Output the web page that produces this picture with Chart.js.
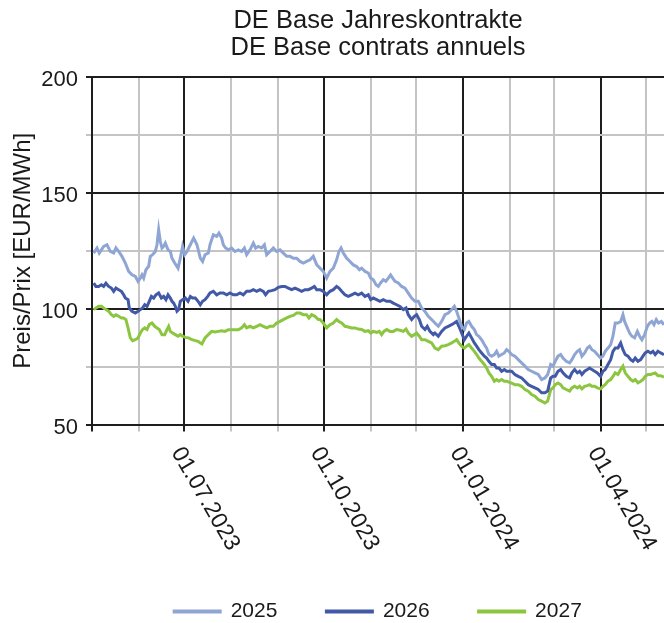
<!DOCTYPE html>
<html>
<head>
<meta charset="utf-8">
<script src="https://cdn.jsdelivr.net/npm/chart.js@4.4.1/dist/chart.umd.min.js"></script>
<style>
  html, body { margin: 0; padding: 0; background: #fff; }
  #wrap { width: 664px; height: 623px; }
</style>
</head>
<body>
<div id="wrap"><canvas id="chart"></canvas></div>
<script>
// Tage ab 01.05.2023, Preise in EUR/MWh
const seriesNames = ['2025', '2026', '2027'];

const points2025 = [
  [1.1,124.0],[3.3,126.2],[4.8,124.0],[7.7,126.9],[9.9,127.6],[12.1,124.7],[14.3,124.0],[15.8,126.2],[17.6,124.7],[19.8,122.6],
  [22,119.7],[24.2,116.1],[26.4,114.6],[28.6,113.9],[30.4,111.8],[31.9,113.2],[33,114.6],[34.1,113.2],[35.6,116.8],[37.4,118.3],
  [38.5,122.6],[40,123.3],[41.8,124.7],[42.9,127.6],[44,134.1],[45.1,129.0],[46.2,126.2],[47.3,126.9],[48.4,128.3],[50.2,125.4],
  [51.7,124.7],[52.8,121.8],[54.6,119.7],[56.8,117.5],[58.3,121.8],[59.8,126.9],[61.2,123.3],[62.7,124.7],[64.9,127.6],[67.1,130.5],
  [69.3,127.6],[71.5,121.8],[73,120.4],[74.6,123.3],[76.8,124.0],[77.9,127.6],[80.1,131.9],[82.3,131.2],[83.8,132.6],[85.6,130.5],
  [86.7,127.6],[88.2,126.2],[90,125.4],[92.2,126.2],[94.4,124.7],[96.6,125.4],[98.8,124.7],[100.6,126.2],[102.1,123.3],[104.3,125.4],
  [106.5,128.3],[108,126.2],[109.8,126.9],[112,126.2],[113.8,127.6],[115.3,123.3],[117.5,124.7],[119.7,126.2],[121.9,124.7],[124.1,125.4],
  [126.3,124.0],[128.5,122.6],[130.7,122.6],[132.9,121.8],[135.1,121.8],[137.3,120.4],[139.5,119.7],[141.7,120.4],[143.9,121.1],[146.1,122.6],
  [148.3,119.0],[150.5,117.5],[152.7,116.1],[154.9,113.2],[157.1,116.1],[159.3,117.5],[161.5,121.1],[163,124.7],[164.4,126.2],[165.9,124.0],
  [168.1,121.8],[170.3,120.4],[172.5,118.9],[174.7,118.2],[176.5,116.8],[178,117.5],[180.2,116.1],[182.4,115.4],[184,113.2],[185.7,112.5],
  [187.5,110.3],[189,109.6],[190.5,111.1],[192.3,112.5],[194,111.8],[195.6,113.2],[197.1,114.6],[198.5,113.2],[200,111.8],[202.2,111.1],
  [204.4,109.6],[206.6,108.9],[208.8,106.7],[211,104.6],[213.2,103.2],[215.4,103.2],[217.6,100.3],[219.8,98.8],[222,96.7],[224.2,95.3],
  [226.4,93.8],[228.6,92.4],[230.8,94.5],[233,97.4],[235.2,98.1],[237.4,99.6],[239.2,101.0],[240.7,98.9],[242.2,96.0],[244,92.4],
  [245.8,91.0],[247.3,93.8],[248.8,94.5],[250.6,92.4],[252.4,91.0],[253.9,88.8],[255.4,88.1],[257.2,86.6],[259,84.5],[260.5,83.0],
  [262,80.2],[263.8,79.5],[265.6,80.2],[267.1,81.6],[268.6,79.5],[270.4,80.2],[272.2,80.9],[273.7,82.3],[275.2,81.6],[277,80.2],
  [279.2,79.5],[281.4,78.0],[283.6,76.6],[285.8,75.2],[288,73.7],[290.2,73.0],[292.4,72.3],[294.6,71.6],[296.8,69.4],[299,70.1],
  [300.8,71.6],[302.8,75.9],[304.3,75.2],[305.8,77.3],[307.6,79.5],[309.4,80.2],[310.9,78.7],[313.1,77.3],[315.3,76.6],[316.8,78.0],
  [318.6,80.2],[320.4,81.6],[321.9,82.3],[323.4,79.5],[325.2,80.9],[327,83.0],[328.5,83.8],[330,82.3],[331.8,81.6],[333.6,80.2],
  [335.8,78.7],[337.3,79.5],[338.8,81.6],[340.6,83.0],[342.4,84.5],[343.9,88.1],[345.4,93.8],[347.2,93.8],[349,94.5],[350.5,97.4],
  [351.6,94.5],[353.4,91.7],[354.9,89.5],[356.4,88.1],[358.2,87.4],[360,90.2],[361.5,88.1],[363,86.6],[364.8,88.8],[366.6,92.4],
  [368.1,93.8],[369.6,94.5],[371,93.1],[372.5,95.3],[374,93.8],[375.8,94.5],[377.6,93.1]
];

const points2026 = [
  [1.1,111.0],[2.6,109.6],[4.4,109.6],[6.2,110.3],[7.7,109.6],[9.2,111.0],[11,109.6],[12.8,108.9],[14.3,107.5],[15.8,108.9],
  [17.6,108.2],[19.4,107.5],[20.9,106.0],[22,104.6],[23.8,103.9],[24.6,100.3],[26.4,98.9],[28.6,98.1],[30.4,98.9],[31.9,99.6],
  [33.4,100.3],[34.8,101.7],[36.3,101.0],[37.8,103.2],[39.2,105.3],[40.7,104.6],[42.2,106.0],[44,106.8],[45.8,104.6],[47.3,105.3],
  [48.8,103.9],[50.2,106.0],[51.7,104.6],[52.8,103.2],[53.9,102.4],[55,101.0],[56.1,98.9],[57.2,99.6],[58.3,103.2],[59.8,103.9],
  [61.6,104.6],[63.4,103.2],[64.9,105.3],[66.4,104.6],[68.2,104.6],[70,103.2],[71.5,101.7],[73,103.2],[74.6,103.9],[76.4,105.3],
  [77.9,106.8],[80.1,107.5],[82.3,106.0],[84.5,106.8],[86.7,106.8],[88.9,106.0],[91.1,106.8],[93.3,106.0],[95.5,106.0],[97.7,106.8],
  [99.9,106.0],[102.1,107.5],[104.3,107.5],[106.5,108.2],[108.7,107.5],[110.9,108.2],[113.1,107.5],[114.6,106.0],[116.4,107.5],[118.6,107.8],
  [120.8,108.2],[123,109.2],[125.2,109.6],[127.4,109.6],[129.6,108.9],[131.8,108.2],[134,108.9],[136.2,108.2],[138.4,107.5],[140.6,108.2],
  [142.8,108.2],[145,108.9],[146.8,109.6],[148.3,108.2],[150.5,108.2],[152.7,107.5],[154.9,106.0],[157.1,107.5],[159.3,108.2],[161.5,109.6],
  [163,108.9],[164.8,107.5],[167,106.0],[169.2,105.3],[171.4,106.0],[173.6,106.7],[175.8,106.0],[178,106.7],[180.2,105.3],[182.4,106.0],
  [184,103.9],[185.7,104.6],[187.9,103.9],[190.1,103.2],[192.3,103.9],[194.5,103.2],[196.7,103.2],[198.9,102.4],[201.1,101.7],[203.3,101.0],
  [205.5,99.6],[207.3,100.3],[208.8,97.4],[211,95.3],[212.8,96.7],[214.3,97.4],[216.1,95.3],[217.6,92.4],[219.8,91.0],[221.3,92.4],
  [223.1,90.2],[225.3,88.8],[226.4,89.5],[228.6,88.1],[230.8,90.2],[233,91.7],[235.2,92.4],[237.4,93.1],[239.2,93.8],[240.7,94.5],
  [242.2,92.4],[244,89.5],[245.8,86.6],[247.3,88.1],[248.8,89.5],[250.6,87.4],[252.4,85.2],[253.9,83.8],[255.4,82.3],[257.2,80.9],
  [259,79.5],[260.5,78.7],[262,77.3],[263.8,75.9],[265.6,75.9],[267.1,74.4],[268.6,74.4],[270.4,73.0],[272.2,73.7],[273.7,73.0],
  [275.2,73.0],[277,73.0],[279.2,71.6],[281.4,70.8],[283.6,70.1],[285.8,68.7],[288,67.2],[290.2,66.5],[292.4,65.8],[294.6,65.1],
  [296.8,63.7],[299,63.7],[300.8,64.4],[302.8,70.1],[304.3,70.8],[305.8,70.8],[307.6,73.0],[309.4,73.7],[310.9,72.3],[313.1,70.8],
  [315.3,70.1],[316.8,72.3],[318.6,73.7],[320.4,72.3],[321.9,73.0],[323.4,71.6],[325.2,73.0],[327,73.7],[328.5,74.4],[330,73.7],
  [331.8,73.0],[333.6,72.3],[335.8,70.8],[337.3,73.0],[338.8,73.7],[340.6,75.9],[342.4,78.0],[343.9,81.6],[345.4,83.0],[347.2,83.0],
  [349,85.2],[350.5,82.3],[352,80.2],[353.8,79.5],[355.6,78.0],[357.1,77.3],[358.6,78.7],[360.4,77.3],[362.2,78.0],[363.7,79.5],
  [365.2,80.9],[367,81.6],[368.8,80.9],[370.3,81.6],[371.8,80.2],[373.6,81.6],[375.4,80.9],[377.6,80.2]
];

const points2027 = [
  [1.1,99.6],[2.6,100.3],[4.4,101.0],[6.2,101.0],[7.7,100.3],[9.2,99.6],[11,98.9],[12.8,97.4],[14.3,96.7],[15.8,97.4],
  [17.6,96.7],[19.4,96.0],[20.9,96.0],[22.4,95.3],[23.8,91.7],[25.3,87.4],[26.8,86.2],[28.6,86.6],[30.4,87.4],[31.9,89.5],
  [33.4,91.0],[34.8,91.7],[36.3,91.0],[37.8,93.1],[39.6,93.8],[41.4,92.4],[42.9,91.7],[44.4,91.0],[46.2,88.8],[48,88.8],
  [49.5,91.0],[50.6,92.4],[51.7,90.2],[53.2,89.5],[55,88.8],[56.8,88.1],[58.3,88.8],[59.8,88.1],[61.6,87.6],[63.8,87.4],
  [66,86.6],[68.2,86.2],[70,85.9],[71.5,85.2],[72.6,84.8],[73.7,86.2],[74.6,87.4],[76.8,88.8],[79,90.2],[81.2,89.9],
  [83.4,90.2],[85.6,90.5],[87.8,90.2],[90,90.9],[92.2,90.9],[94.4,90.9],[96.6,90.9],[98.8,91.7],[100.6,93.1],[102.1,91.7],
  [104.3,92.4],[106.5,91.7],[108.7,92.4],[110.9,93.1],[113.1,92.4],[115.3,91.7],[117.5,92.4],[119.7,92.4],[121.9,93.8],[124.1,94.5],
  [126.3,95.3],[128.5,96.0],[130.7,96.7],[132.9,97.1],[135.1,98.1],[137.3,98.1],[139.5,97.4],[141.7,97.4],[143.2,96.0],[145,97.4],
  [147.2,96.7],[149.4,95.3],[150.5,95.3],[152.7,93.8],[154.9,91.7],[157.1,93.1],[159.3,93.8],[161.5,95.3],[163,94.5],[164.8,93.8],
  [167,92.4],[169.2,92.1],[171.4,91.7],[173.6,91.7],[175.8,91.2],[178,91.0],[180.2,90.2],[182.4,90.5],[184,89.5],[185.7,90.2],
  [187.9,89.8],[189.7,90.2],[191.2,88.8],[192.7,90.2],[194.5,91.0],[196.7,90.2],[198.9,90.2],[201.1,91.0],[203.3,90.7],[205.5,90.2],
  [207.3,91.2],[208.8,89.5],[211,88.1],[212.8,88.8],[214.3,89.5],[216.1,88.1],[217.6,86.6],[219.8,86.6],[222,85.9],[224.2,85.2],
  [226.4,83.0],[228.6,82.3],[230.8,83.8],[233,84.0],[235.2,84.5],[237.4,85.2],[239.2,85.9],[240.7,86.6],[242.2,85.2],[244,83.8],
  [245.8,83.0],[247.3,83.8],[248.8,84.5],[250.6,83.0],[252.4,81.6],[253.9,80.2],[255.4,78.7],[257.2,77.3],[259,75.9],[260.5,74.4],
  [262,72.3],[263.8,70.8],[265.6,68.7],[267.1,69.4],[268.6,68.7],[270.4,69.4],[272.2,68.7],[273.7,68.7],[275.2,68.3],[277,67.9],
  [279.2,67.2],[281.4,67.2],[283.6,66.5],[285.8,65.1],[288,64.4],[290.2,62.9],[292.4,62.2],[294.6,60.8],[296.8,60.1],[299,59.3],
  [300.8,60.1],[302.8,65.1],[304.3,65.8],[305.8,67.2],[307.6,67.9],[309.4,67.2],[310.9,65.8],[313.1,65.1],[315.3,64.4],[316.8,65.8],
  [318.6,66.5],[320.4,65.8],[321.9,66.5],[323.4,65.4],[325.2,66.5],[327,66.8],[328.5,67.2],[330,66.5],[331.8,66.5],[333.6,65.8],
  [335.8,65.4],[337.3,66.5],[338.8,67.2],[340.6,68.7],[342.4,69.4],[343.9,70.8],[345.4,72.3],[347.2,71.6],[349,73.7],[350.5,75.2],
  [352,72.3],[353.8,70.8],[355.6,69.4],[357.1,68.7],[358.6,69.4],[360.4,68.0],[362.2,68.7],[363.7,69.4],[365.2,70.8],[367,71.6],
  [368.8,71.6],[370.3,72.0],[371.8,72.3],[373.6,71.1],[375.4,71.1],[377.6,70.5]
];

// Monatsanfänge (Tage ab 01.05.2023) und beschriftete Quartalsanfänge
const monthStarts = [0, 31, 61, 92, 123, 153, 184, 214, 245, 276, 305, 336, 366];
const quarterStarts = [61, 153, 245, 336];
const quarterLabels = ['01.07.2023', '01.10.2023', '01.01.2024', '01.04.2024'];
const yMin = 50, yMax = 200, yStep = 25;
const dayMax = 377.6;

const FONT = '"Liberation Sans", Arial, sans-serif';
const TXT = '#1a1a1a';
const BLACK = '#1e1e1e';
const GRAY = '#c4c4c4';
const colors = ['#8fa5d3', '#4259a8', '#8cc540'];

const toXY = pts => pts.map(([d, v]) => ({ x: d, y: v }));

// x-Beschriftungen schräg nach rechts unten
const dateLabels = {
    id: 'dateLabels',
    afterDraw(chart) {
        const xs = chart.scales.x;
        const ctx = chart.ctx;
        ctx.save();
        ctx.font = '23px ' + FONT;
        ctx.fillStyle = TXT;
        ctx.textAlign = 'left';
        ctx.textBaseline = 'middle';
        quarterStarts.forEach((d, i) => {
            const px = xs.getPixelForValue(d);
            ctx.save();
            ctx.translate(px - 8, xs.top + 24.5);
            ctx.rotate(60 * Math.PI / 180);
            ctx.fillText(quarterLabels[i], 0, 0);
            ctx.restore();
        });
        ctx.restore();
    }
};

const ctx = document.getElementById('chart').getContext('2d');
new Chart(ctx, {
    type: 'line',
    data: {
        datasets: [points2025, points2026, points2027].map((pts, i) => ({
            label: seriesNames[i],
            data: toXY(pts),
            borderColor: colors[i],
            backgroundColor: colors[i],
            borderWidth: 3,
            pointRadius: 0,
            tension: 0
        }))
    },
    options: {
        responsive: true,
        maintainAspectRatio: false,
        animation: false,
        layout: { padding: { left: 0, right: 0, top: 0, bottom: -9 } },
        plugins: {
            title: {
                display: true,
                fullSize: false,
                text: ['DE Base Jahreskontrakte', 'DE Base contrats annuels'],
                color: TXT,
                font: { family: FONT, size: 25.5, weight: 'normal', lineHeight: 1.06 },
                padding: { top: 7.5, bottom: 15.5 }
            },
            legend: {
                position: 'bottom',
                fullSize: false,
                labels: {
                    color: TXT,
                    font: { family: FONT, size: 21 },
                    boxWidth: 46,
                    boxHeight: 1,
                    padding: 49
                }
            },
            tooltip: { enabled: false }
        },
        scales: {
            x: {
                type: 'linear',
                min: 0,
                max: dayMax,
                afterBuildTicks: scale => { scale.ticks = monthStarts.map(v => ({ value: v })); },
                afterFit: scale => { scale.height = 127.5; },
                ticks: { display: false },
                grid: {
                    color: c => (c.tick && (quarterStarts.includes(c.tick.value) || c.tick.value === 0)) ? BLACK : GRAY,
                    lineWidth: 2,
                    tickLength: 7
                },
                border: { color: BLACK, width: 2 }
            },
            y: {
                min: yMin,
                max: yMax,
                afterFit: scale => { scale.width = 92; },
                ticks: {
                    stepSize: yStep,
                    color: TXT,
                    font: { family: FONT, size: 22 },
                    padding: 8,
                    labelOffset: 3,
                    callback: v => (v % 50 === 0 ? v : '')
                },
                grid: {
                    color: c => (c.tick && c.tick.value % 50 === 0) ? BLACK : GRAY,
                    lineWidth: 2,
                    tickLength: 6
                },
                border: { color: BLACK, width: 2 },
                title: {
                    display: true,
                    text: 'Preis/Prix [EUR/MWh]',
                    color: TXT,
                    font: { family: FONT, size: 24, lineHeight: 1.2 },
                    padding: { top: 8.6, bottom: 0 }
                }
            }
        }
    },
    plugins: [dateLabels]
});
</script>
</body>
</html>
